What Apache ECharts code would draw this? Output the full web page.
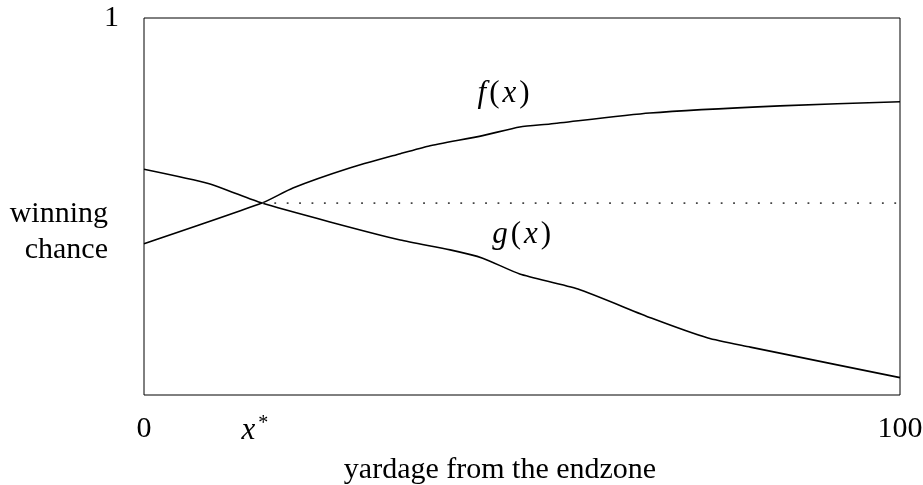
<!DOCTYPE html>
<html>
<head>
<meta charset="utf-8">
<script src="https://cdn.jsdelivr.net/npm/echarts@6/dist/echarts.min.js"></script>
<style>html,body{margin:0;padding:0;background:#fff}#c{width:923px;height:485px}</style>
</head>
<body>
<div id="c"></div>
<script>
// f(x): winning chance curve (rising)
const fX = [0, 15.6, 19.7, 27.2, 33.9, 37.6, 44.8, 49.7, 53.7, 66.9, 84.1, 100];
const fY = [0.401, 0.509, 0.549, 0.602, 0.640, 0.660, 0.688, 0.711, 0.719, 0.748, 0.767, 0.778];
// g(x): winning chance curve (falling)
const gX = [0, 8.5, 15.6, 24.6, 33.9, 40.5, 44.8, 49.7, 57.4, 67.1, 74.6, 80.2, 84.1, 100];
const gY = [0.599, 0.561, 0.509, 0.459, 0.411, 0.385, 0.363, 0.321, 0.281, 0.204, 0.151, 0.127, 0.111, 0.046];
// crossing point x* and dotted level
const xStar = 15.6;
const crossY = 0.509;
const xTicks = [0, xStar, 100];
const xTickLabels = ['0', '{i|x}{s|*}', '100'];
const yTicks = [1];
const yTickLabels = ['1'];
// curve label anchors
const fLabelPos = [47.5, 0.8];
const gLabelPos = [49.9, 0.425];

const font = '"Liberation Serif", "DejaVu Serif", serif';
const italicRich = {
  i: {fontFamily: font, fontStyle: 'italic', fontSize: 31, color: '#000', padding: [0, 2, 0, 2]},
  r: {fontFamily: font, fontSize: 31, color: '#000', padding: [0, 1, 0, 1]}
};
const chart = echarts.init(document.getElementById('c'), null, {renderer: 'canvas'});
chart.setOption({
  animation: false,
  grid: {left: 144, right: 23, top: 18, bottom: 90, outerBoundsMode: 'none', containLabel: false,
         show: true, borderColor: '#000', borderWidth: 1, backgroundColor: 'transparent'},
  xAxis: {
    type: 'value', min: 0, max: 100,
    axisLine: {show: false}, axisTick: {show: false}, splitLine: {show: false},
    axisLabel: {
      customValues: xTicks,
      margin: 19,
      color: '#000', fontFamily: font, fontSize: 30,
      formatter: function (v) { const i = xTicks.indexOf(v); return i >= 0 ? xTickLabels[i] : ''; },
      rich: {
        i: {fontFamily: font, fontStyle: 'italic', fontSize: 31, color: '#000', padding: [0, 2, 0, 0]},
        s: {fontFamily: font, fontSize: 20, color: '#000', verticalAlign: 'top', padding: [0, 14, 14, 1]}
      }
    },
    name: 'yardage from the endzone', nameLocation: 'middle', nameGap: 60, nameMoveOverlap: false,
    nameTextStyle: {color: '#000', fontFamily: font, fontSize: 30, padding: [0, 44, 0, 0]}
  },
  yAxis: {
    type: 'value', min: 0, max: 1,
    axisLine: {show: false}, axisTick: {show: false}, splitLine: {show: false},
    axisLabel: {
      customValues: yTicks,
      margin: 25,
      color: '#000', fontFamily: font, fontSize: 30,
      formatter: function (v) { const i = yTicks.indexOf(v); return i >= 0 ? yTickLabels[i] : ''; }
    },
    name: '{p|}\n{a|winning}\n{a|chance}', nameLocation: 'middle', nameGap: 36, nameRotate: 0,
    nameMoveOverlap: false,
    nameTextStyle: {color: '#000', fontFamily: font, fontSize: 30, align: 'right',
      rich: {
        p: {height: 52, fontSize: 30},
        a: {fontFamily: font, fontSize: 30, color: '#000', lineHeight: 36}
      }}
  },
  series: [
    {
      type: 'line', name: 'f', data: fX.map((x, i) => [x, fY[i]]),
      showSymbol: false, smooth: 0.2, lineStyle: {color: '#000', width: 1.6},
      markPoint: {
        symbol: 'circle', symbolSize: 1, itemStyle: {color: 'rgba(0,0,0,0)'},
        data: [{coord: fLabelPos}],
        label: {show: true, position: 'inside', formatter: '{i|f}{r|(}{i|x}{r|)}', rich: italicRich}
      }
    },
    {
      type: 'line', name: 'g', data: gX.map((x, i) => [x, gY[i]]),
      showSymbol: false, smooth: 0.2, lineStyle: {color: '#000', width: 1.6},
      markPoint: {
        symbol: 'circle', symbolSize: 1, itemStyle: {color: 'rgba(0,0,0,0)'},
        data: [{coord: gLabelPos}],
        label: {show: true, position: 'inside', formatter: '{i|g}{r|(}{i|x}{r|)}', rich: italicRich}
      }
    },
    {
      type: 'line', name: 'level', data: [[xStar, crossY], [100, crossY]],
      showSymbol: false, lineStyle: {color: '#444', width: 1.8, type: [1.8, 10.6]}
    }
  ]
});
</script>
</body>
</html>
